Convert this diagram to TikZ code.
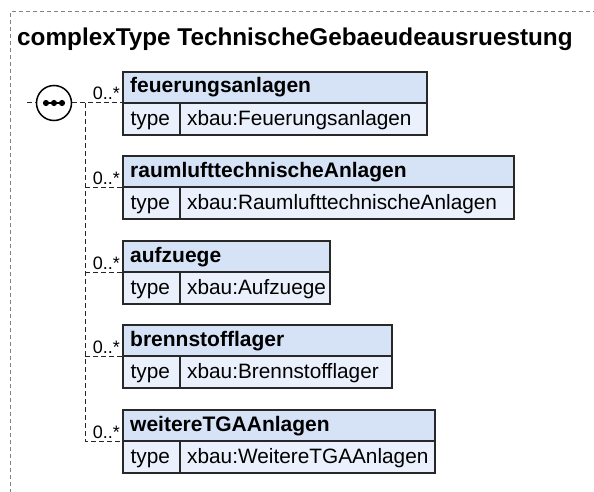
\documentclass[tikz,border=0pt]{standalone}
\usepackage{fontspec}
\setmainfont{Liberation Sans}
\definecolor{hdrfill}{RGB}{214,227,247}
\definecolor{rowfill}{RGB}{234,241,252}
\definecolor{edge}{RGB}{40,40,40}
\definecolor{frame}{RGB}{130,130,130}
\tikzset{
  hdr/.style={draw=edge, line width=1.2pt, fill=hdrfill, minimum height=31pt, inner sep=0pt, outer sep=0pt},
  cellbox/.style={draw=edge, line width=1.2pt, fill=rowfill, minimum height=32pt, inner sep=0pt, outer sep=0pt},
  btext/.style={font=\fontsize{21}{24}\selectfont\bfseries, inner sep=0pt, anchor=base west},
  rtext/.style={font=\fontsize{20.8}{24}\selectfont, inner sep=0pt, anchor=base west},
  conn/.style={draw=black!85, line width=1pt, dash pattern=on 5pt off 3pt},
  mult/.style={font=\fontsize{18}{20}\selectfont, inner sep=0pt, anchor=base east},
}
\newcommand\xelem[5]{%
  \node[hdr, minimum width=#3 pt, anchor=north west] (#1) at (123,#2) {};
  \node[btext] (#1n) at ([xshift=7pt,yshift=-21pt]#1.north west) {#4};
  \node[cellbox, minimum width=57pt, anchor=north west] (#1t) at (#1.south west) {};
  \node[cellbox, minimum width=#3 pt-57pt, anchor=north west] (#1v) at (#1t.north east) {};
  \node[rtext] (#1tl) at ([xshift=7.5pt,yshift=-22pt]#1t.north west) {type};
  \node[rtext] (#1vl) at ([xshift=7pt,yshift=-22pt]#1v.north west) {#5};
}
\begin{document}
\begin{tikzpicture}[x=1pt,y=-1pt]
\useasboundingbox (0,0) rectangle (594,492);
% outer frame
\coordinate (fTL) at (10,12);
\coordinate (fTR) at (600,12);
\coordinate (fBL) at (10,500);
\draw[frame, line width=1pt, dash pattern=on 4pt off 3pt] (fBL) -- (fTL) -- (fTR);
\node[font=\fontsize{24.3}{28}\selectfont\bfseries, inner sep=0pt, anchor=base west] (title) at (17,46) {complexType TechnischeGebaeudeausruestung};
% elements
\xelem{e1}{72}{304}{feuerungsanlagen}{xbau:Feuerungsanlagen}
\xelem{e2}{156}{391}{raumlufttechnischeAnlagen}{xbau:RaumlufttechnischeAnlagen}
\xelem{e3}{241}{207}{aufzuege}{xbau:Aufzuege}
\xelem{e4}{325}{269}{brennstofflager}{xbau:Brennstofflager}
\xelem{e5}{410}{312}{weitereTGAAnlagen}{xbau:WeitereTGAAnlagen}
% sequence compositor
\node[circle, draw=black, line width=1.5pt, fill=white, minimum size=35pt, inner sep=0pt] (seq) at (54,103) {};
\coordinate (in) at (27,103);
\coordinate (j) at (85,103);
\draw[conn] (in) -- (seq.west);
\draw[conn] (seq.east) -- (e1.south west);
\draw[conn] (j) |- (e5.south west);
\foreach \e in {e2,e3,e4}{
  \draw[conn] (j |- \e.south west) -- (\e.south west);
}
\draw[line width=1.6pt] (44,103) -- (64,103);
\foreach \dx in {46,54,62}{
  \fill (\dx,103) circle (3.1pt);
}
% multiplicities
\foreach \e in {e1,e2,e3,e4,e5}{
  \node[mult] at ([xshift=-3pt,yshift=3pt]\e.south west) {0..*};
}
\end{tikzpicture}
\end{document}
